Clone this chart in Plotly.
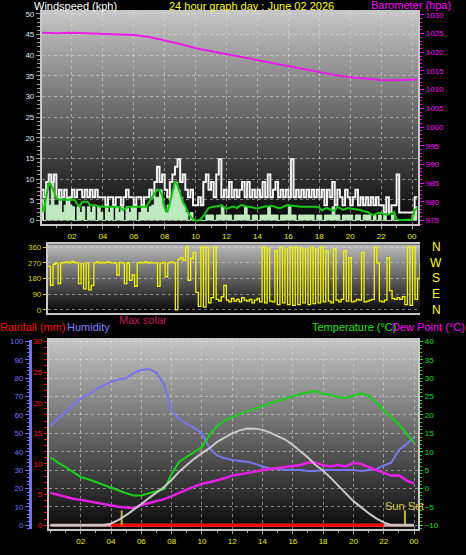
import base64
import plotly.graph_objects as go

# ---------------- DATA ----------------
# 10-minute samples from 00:00 to 24:20 (hours)
wind_hours = [i / 6 for i in range(147)]

gust_kph = [
    7.4, 5.6, 9.3, 11.1, 9.3, 11.1,
    5.6, 7.4, 5.6, 7.4, 3.7, 5.6,
    7.4, 5.6, 7.4, 7.4, 5.6, 7.4,
    5.6, 7.4, 5.6, 7.4, 5.6, 5.6,
    5.6, 3.7, 5.6, 5.6, 3.7, 5.6,
    5.6, 3.7, 5.6, 7.4, 5.6, 5.6,
    3.7, 5.6, 5.6, 3.7, 5.6, 5.6,
    7.4, 5.6, 9.3, 13.0, 9.3, 11.1,
    7.4, 5.6, 9.3, 11.1, 13.0, 14.8,
    9.3, 11.1, 7.4, 5.6, 7.4, 3.7,
    3.7, 5.6, 3.7, 9.3, 11.1, 7.4,
    9.3, 5.6, 11.1, 14.8, 5.6, 7.4,
    5.6, 9.3, 5.6, 7.4, 5.6, 7.4,
    9.3, 5.6, 9.3, 5.6, 7.4, 5.6,
    7.4, 5.6, 9.3, 5.6, 11.1, 5.6,
    7.4, 9.3, 5.6, 7.4, 5.6, 7.4,
    5.6, 14.8, 5.6, 7.4, 5.6, 7.4,
    5.6, 7.4, 5.6, 7.4, 5.6, 7.4,
    5.6, 7.4, 3.7, 7.4, 5.6, 9.3,
    3.7, 7.4, 5.6, 3.7, 7.4, 5.6,
    3.7, 5.6, 7.4, 3.7, 5.6, 3.7,
    5.6, 3.7, 5.6, 3.7, 5.6, 3.7,
    3.7, 1.9, 5.6, 1.9, 3.7, 3.7,
    11.1, 1.9, 1.9, 1.9, 1.9, 1.9,
    1.9, 5.6, 5.6,
]

speed_kph = [
    5.0, 0.0, 7.4, 3.7, 9.3, 3.7,
    3.7, 5.6, 1.9, 3.7, 5.6, 3.7,
    3.3, 0.0, 3.3, 1.9, 3.3, 0.0,
    3.3, 1.9, 3.3, 0.0, 3.3, 1.9,
    0.0, 3.3, 1.9, 3.3, 0.0, 3.3,
    1.9, 3.3, 0.0, 3.3, 1.9, 3.3,
    3.3, 0.0, 1.9, 3.3, 3.3, 1.9,
    3.3, 3.7, 5.6, 5.6, 7.4, 3.7,
    1.9, 3.7, 5.6, 7.4, 9.3, 7.4,
    5.6, 3.7, 1.9, 0.0, 1.9, 0.0,
    0.0, 0.0, 0.0, 0.0, 1.3, 1.3,
    1.3, 0.0, 1.3, 1.3, 3.3, 1.3,
    1.3, 1.3, 0.0, 1.3, 1.3, 1.3,
    1.3, 3.3, 1.3, 0.0, 1.3, 1.3,
    0.0, 1.3, 1.3, 1.3, 3.3, 1.3,
    1.3, 1.3, 0.0, 1.3, 1.3, 1.3,
    3.3, 1.3, 1.3, 0.0, 1.3, 1.3,
    1.3, 1.3, 1.3, 1.3, 0.0, 1.3,
    1.3, 0.0, 1.3, 1.3, 1.3, 3.3,
    1.3, 1.3, 0.0, 1.3, 1.3, 1.3,
    1.3, 0.0, 1.3, 1.3, 0.0, 1.3,
    1.3, 1.3, 0.0, 1.3, 0.0, 1.3,
    0.0, 1.3, 0.0, 0.0, 1.3, 0.0,
    0.0, 0.0, 0.0, 0.0, 0.0, 0.0,
    1.3, 3.3, 3.3,
]

avg_kph = [
    5.0, 2.0, 5.5, 9.0, 8.5, 7.0,
    5.5, 5.0, 5.0, 5.0, 5.0, 5.0,
    5.0, 5.0, 4.0, 3.3, 4.5, 4.5,
    4.5, 3.7, 3.7, 3.7, 3.5, 3.3,
    3.3, 3.3, 3.3, 3.3, 3.2, 3.3,
    3.3, 3.0, 2.5, 3.0, 3.3, 3.3,
    3.3, 3.3, 3.3, 3.3, 3.3, 3.3,
    4.5, 5.5, 6.5, 7.4, 7.4, 6.0,
    3.0, 2.0, 4.0, 7.0, 9.5, 8.5,
    6.5, 4.5, 3.5, 2.0, 1.0, 0.3,
    0.0, 0.0, 0.3, 1.0, 2.0, 3.0,
    3.2, 3.3, 3.3, 3.5, 3.7, 3.3,
    2.8, 3.0, 3.3, 3.3, 3.0, 3.5,
    3.7, 3.5, 3.3, 3.3, 3.1, 3.0,
    2.9, 3.1, 3.3, 3.4, 3.3, 3.5,
    3.5, 3.3, 3.0, 3.0, 3.4, 3.6,
    3.7, 3.6, 3.5, 3.5, 3.4, 3.3,
    3.3, 3.3, 3.3, 3.2, 3.2, 3.3,
    3.1, 2.4, 2.8, 3.0, 2.7, 2.4,
    2.4, 3.3, 3.0, 2.6, 2.7, 3.0,
    2.9, 2.8, 2.7, 2.7, 2.5, 2.3,
    2.2, 2.0, 1.5, 1.3, 1.6, 1.8,
    1.8, 1.6, 1.4, 1.5, 1.8, 2.0,
    0.3, 0.1, 0.1, 0.1, 0.1, 0.2,
    0.2, 2.5, 3.0,
]

wind_dir_deg = [
    250, 140, 262, 268, 150, 270,
    272, 275, 270, 278, 272, 270,
    150, 265, 120, 270, 115, 140,
    270, 275, 268, 272, 270, 275,
    272, 270, 268, 200, 272, 270,
    150, 270, 170, 200, 135, 270,
    272, 270, 275, 268, 272, 270,
    270, 135, 268, 272, 190, 270,
    275, 270, 0, 290, 300, 285,
    360, 170, 295, 330, 100, 20,
    360, 15, 360, 40, 70, 360,
    60, 50, 75, 140, 55, 45,
    65, 50, 60, 45, 70, 55,
    50, 60, 40, 55, 65, 45,
    360, 40, 355, 50, 45, 340,
    30, 360, 40, 350, 30, 360,
    25, 360, 30, 355, 40, 350,
    30, 360, 35, 350, 40, 360,
    45, 340, 50, 40, 350, 55,
    45, 60, 340, 50, 300, 45,
    50, 60, 55, 330, 45, 50,
    55, 60, 360, 270, 50, 45,
    55, 300, 110, 65, 60, 70,
    60, 75, 30, 360, 25, 360,
    60, 180, 270,
]

baro_hours = [0, 1, 2, 3, 4, 5, 6, 7, 8, 9, 10, 11, 12, 13, 14, 15, 16, 17,
              18, 19, 20, 21, 22, 23, 24, 24.33]
baro_hpa = [1025.2, 1025.1, 1025.2, 1025.0, 1025.0, 1024.8, 1024.6, 1024.1,
            1023.2, 1022.2, 1021.1, 1020.3, 1019.5, 1018.6, 1017.8, 1017.0,
            1016.2, 1015.4, 1014.6, 1013.9, 1013.3, 1012.9, 1012.6, 1012.5,
            1012.7, 1012.8]

# half-hour samples for the lower panel
p3_hours = [i * 0.5 for i in range(49)]

humidity_pct = [
    54, 58, 62, 65.5, 69, 71, 74, 76, 78, 79.5,
    80, 83, 84.5, 85, 83, 76.5, 62, 58, 55, 53,
    50, 42, 38, 36.5, 35.5, 35, 34.5, 33.5, 32, 31,
    30.5, 30, 30, 30, 29.5, 29.5, 30, 30, 30, 30,
    30, 29.5, 30, 30.5, 32.5, 34, 41, 44, 48,
]

temperature_c = [
    8.5, 7.0, 5.8, 4.5, 3.1, 2.5, 1.7, 1.0, 0.2, -0.6,
    -1.3, -1.9, -1.9, -1.3, -0.8, -0.2, 4.0, 7.3, 8.6, 10.0,
    11.3, 14.5, 17.0, 18.5, 19.5, 20.3, 21.0, 21.8, 22.5, 23.2,
    23.8, 24.5, 25.2, 25.7, 26.1, 26.5, 25.8, 25.5, 24.8, 24.6,
    25.3, 26.0, 25.2, 23.5, 21.3, 19.5, 17.5, 15.0, 12.5,
]

dewpoint_c = [
    -1.2, -1.8, -2.3, -2.8, -3.1, -3.5, -3.9, -4.3, -4.7, -5.0,
    -5.2, -5.4, -4.5, -4.0, -3.6, -2.9, -2.1, -1.1, -0.3, 0.5,
    1.3, 1.7, 2.2, 2.8, 3.5, 3.9, 4.3, 4.7, 5.0, 5.3,
    5.6, 5.9, 6.2, 6.4, 7.0, 7.1, 6.3, 6.0, 6.4, 6.0,
    6.9, 6.7, 5.8, 5.0, 4.1, 3.5, 3.6, 2.2, 1.4,
]

rainfall_mm = [0.0] * 49

max_solar_wm2 = [
    0, 0, 0, 0, 0, 0, 0, 0, 18, 55,
    105, 160, 220, 282, 340, 397, 470, 556, 625, 692,
    748, 800, 865, 912, 953, 985, 1005, 1003, 990, 962,
    925, 889, 833, 772, 703, 625, 566, 492, 412, 332,
    250, 188, 125, 72, 30, 0, 0, 0, 0,
]

sun_event_hours = [4.7, 23.4]
sun_marker_height = [0, 8]

hour_tickvals = [2, 4, 6, 8, 10, 12, 14, 16, 18, 20, 22, 24]
hour_ticktext = ["02", "04", "06", "08", "10", "12", "14", "16", "18", "20", "22", "00"]

compass_deg = [360, 270, 180, 90, 0]
compass_text = ["N", "W", "S", "E", "N"]

# ---------------- FIGURE ----------------
W, H = 466, 555
FONT = "Liberation Sans, Arial, sans-serif"


def fx(p):
    return p / W


def fy(p):
    return 1 - p / H


def grad_img(xa, ya, top, bottom):
    svg = ('<svg xmlns="http://www.w3.org/2000/svg" viewBox="0 0 10 100" '
           'preserveAspectRatio="none" width="10" height="100"><defs>'
           '<linearGradient id="g" x1="0" y1="0" x2="0" y2="1">'
           f'<stop offset="0" stop-color="{top}"/>'
           f'<stop offset="1" stop-color="{bottom}"/>'
           '</linearGradient></defs><rect width="10" height="100" fill="url(#g)"/></svg>')
    src = "data:image/svg+xml;base64," + base64.b64encode(svg.encode()).decode()
    return dict(source=src, xref=xa + " domain", yref=ya + " domain", x=0, y=1,
                sizex=1, sizey=1, sizing="stretch", xanchor="left", yanchor="top",
                layer="below")


fig = go.Figure()

# Panel 1: wind
fig.add_trace(go.Scatter(x=wind_hours, y=gust_kph, mode="lines", line_shape="hv",
                         line=dict(color="#f2f2f2", width=2), xaxis="x", yaxis="y"))
fig.add_trace(go.Scatter(x=wind_hours, y=speed_kph, mode="lines", line_shape="hv",
                         fill="tozeroy", fillcolor="#bfe9bf",
                         line=dict(color="#c6efc6", width=1), xaxis="x", yaxis="y"))
fig.add_trace(go.Scatter(x=wind_hours, y=avg_kph, mode="lines",
                         line=dict(color="#14c814", width=2), xaxis="x", yaxis="y"))
fig.add_trace(go.Scatter(x=baro_hours, y=baro_hpa, mode="lines",
                         line=dict(color="#e81ee8", width=2), xaxis="x", yaxis="y2"))

# Panel 2: direction
fig.add_trace(go.Scatter(x=wind_hours, y=wind_dir_deg, mode="lines", line_shape="hv",
                         line=dict(color="#f2f200", width=1.3), xaxis="x2", yaxis="y3"))

# Panel 3
fig.add_trace(go.Scatter(x=p3_hours, y=max_solar_wm2, mode="lines",
                         line=dict(color="#c8c8c8", width=2), xaxis="x3", yaxis="y8"))
fig.add_trace(go.Scatter(x=p3_hours, y=humidity_pct, mode="lines",
                         line=dict(color="#7676ee", width=2), xaxis="x3", yaxis="y6"))
fig.add_trace(go.Scatter(x=p3_hours, y=temperature_c, mode="lines",
                         line=dict(color="#18d018", width=2), xaxis="x3", yaxis="y7"))
fig.add_trace(go.Scatter(x=p3_hours, y=dewpoint_c, mode="lines",
                         line=dict(color="#e81ee8", width=2.5), xaxis="x3", yaxis="y7"))
fig.add_trace(go.Scatter(x=p3_hours, y=rainfall_mm, mode="lines",
                         line=dict(color="#dc9a9a", width=3), xaxis="x3", yaxis="y5"))
rain_day = [r if s > 0 else None for r, s in zip(rainfall_mm, max_solar_wm2)]
fig.add_trace(go.Scatter(x=p3_hours, y=rain_day, mode="lines",
                         line=dict(color="#ff0000", width=3), xaxis="x3", yaxis="y5"))
sx, sy = [], []
for h in sun_event_hours:
    sx += [h, h, None]
    sy += sun_marker_height + [None]
fig.add_trace(go.Scatter(x=sx, y=sy, mode="lines",
                         line=dict(color="#c8b432", width=2), xaxis="x3", yaxis="y6"))

GRID = "rgba(225,225,225,0.5)"
BORDER = "#c8c8c8"


def tickfont(c):
    return dict(family=FONT, size=8, color=c)


xcommon = dict(tickmode="array", tickvals=hour_tickvals, ticktext=hour_ticktext,
               tickfont=tickfont("#eeee00"), ticks="outside", ticklen=3,
               tickcolor="#a0a0a0", showgrid=True, gridcolor=GRID, griddash="dot",
               gridwidth=1, showline=True, linecolor=BORDER, linewidth=2,
               mirror=True, zeroline=False,
               minor=dict(dtick=1, tick0=0, ticks="outside", ticklen=2,
                          tickcolor="#a0a0a0", showgrid=False))

fig.update_layout(
    width=W, height=H, autosize=False,
    margin=dict(l=0, r=0, t=0, b=0),
    paper_bgcolor="black", plot_bgcolor="rgba(0,0,0,0)",
    showlegend=False, hovermode=False,
    font=dict(family=FONT, size=11),
    xaxis=dict(domain=[fx(42), fx(419)], anchor="y", range=[0.06, 24.39], **xcommon),
    yaxis=dict(domain=[fy(224), fy(10)], anchor="x", range=[-0.96, 50.48],
               tickmode="linear", tick0=0, dtick=5, tickfont=tickfont("#dce8f8"),
               ticks="outside", ticklen=4, tickcolor="#9a9a9a",
               showgrid=True, gridcolor=GRID, griddash="dot", zeroline=False,
               showline=True, linecolor=BORDER, linewidth=2,
               minor=dict(dtick=1, ticks="outside", ticklen=3, tickcolor="#9a9a9a",
                          showgrid=False)),
    yaxis2=dict(overlaying="y", side="right", anchor="x", range=[973.94, 1030.8],
                tickmode="linear", tick0=975, dtick=5, tickfont=tickfont("#ff00ff"),
                ticks="outside", ticklen=4, tickcolor="#ff00ff",
                showgrid=False, zeroline=False,
                showline=True, linecolor=BORDER, linewidth=2,
                minor=dict(dtick=1, ticks="outside", ticklen=2, tickcolor="#ff00ff",
                           showgrid=False)),
    xaxis2=dict(domain=[fx(48), fx(421)], anchor="y3", range=[0, 24.33],
                showticklabels=False, ticks="", showgrid=False, zeroline=False,
                showline=True, linecolor=BORDER, linewidth=2, mirror=True),
    yaxis3=dict(domain=[fy(313), fy(244)], anchor="x2", range=[-17, 377],
                tickmode="array", tickvals=[0, 90, 180, 270, 360],
                tickfont=tickfont("#d2d200"), ticks="outside", ticklen=3,
                tickcolor="#d2d200", showgrid=True, gridcolor=GRID, griddash="dot",
                zeroline=False, showline=True, linecolor=BORDER, linewidth=2),
    xaxis3=dict(domain=[fx(49), fx(419)], anchor="y5", range=[-0.105, 24.27], **xcommon),
    yaxis5=dict(domain=[fy(531), fy(340)], anchor="x3", range=[-0.65, 30.32],
                tickmode="linear", tick0=0, dtick=5, tickfont=tickfont("#ff1010"),
                ticks="outside", ticklen=3, tickcolor="#ff1010",
                showgrid=False, zeroline=False,
                showline=True, linecolor=BORDER, linewidth=2,
                minor=dict(dtick=1, ticks="outside", ticklen=3, tickcolor="#ff1010",
                           showgrid=False)),
    yaxis6=dict(overlaying="y5", anchor="free", position=fx(30), side="left",
                range=[-2.16, 101.08], tickmode="linear", tick0=0, dtick=10,
                tickfont=tickfont("#7070f0"), ticks="outside", ticklen=4,
                tickcolor="#7070f0", showgrid=False, zeroline=False,
                showline=True, linecolor="#7070f0", linewidth=3,
                minor=dict(dtick=2, ticks="outside", ticklen=2, tickcolor="#7070f0",
                           showgrid=False)),
    yaxis7=dict(overlaying="y5", anchor="x3", side="right", range=[-11.08, 40.54],
                tickmode="linear", tick0=-10, dtick=5, tickfont=tickfont("#18e018"),
                ticks="outside", ticklen=3, tickcolor="#18e018",
                showgrid=True, gridcolor=GRID, griddash="dot", zeroline=False,
                showline=True, linecolor=BORDER, linewidth=2,
                minor=dict(dtick=1, ticks="outside", ticklen=2, tickcolor="#18e018",
                           showgrid=False)),
    yaxis8=dict(overlaying="y5", anchor="x3", range=[-41, 1928], visible=False),
    images=[grad_img("x", "y", "#c6c6c6", "#040404"),
            grad_img("x2", "y3", "#bcbcbc", "#050505"),
            grad_img("x3", "y5", "#c4c4c4", "#0a0a0a")],
)


def label(text, x, y, color, xanchor="left", size=11, xref="paper", yref="paper"):
    fig.add_annotation(text=text, x=x, y=y, xref=xref, yref=yref, xanchor=xanchor,
                       yanchor="middle", showarrow=False, borderpad=0,
                       font=dict(family=FONT, size=size, color=color))


label("Windspeed (kph)", fx(33), fy(4), "#ffffff")
label("24 hour graph day : June 02 2026", fx(252), fy(4), "#ffff00", xanchor="center")
label("Barometer (hpa)", fx(371), fy(3.5), "#ff00ff")
label("Rainfall (mm)", fx(-1), fy(327), "#ff0000")
label("Humidity", fx(66), fy(327), "#8282ff")
label("Max solar", fx(118), fy(320), "#c8184a")
label("Temperature (°C)", fx(312), fy(327), "#20e020")
label("Dew Point (°C)", fx(392), fy(327), "#ff00ff")
label("Sun Set", sun_event_hours[1], fy(508), "#d8c840", xanchor="center", xref="x3")
for d, t in zip(compass_deg, compass_text):
    label(t, fx(437), d, "#ffff00", xanchor="center", size=12, yref="y3")

fig.write_html(
    "out.html",
    config={"displayModeBar": False, "staticPlot": True},
    post_script="document.body.style.margin='0px';document.body.style.overflow='hidden';",
)
